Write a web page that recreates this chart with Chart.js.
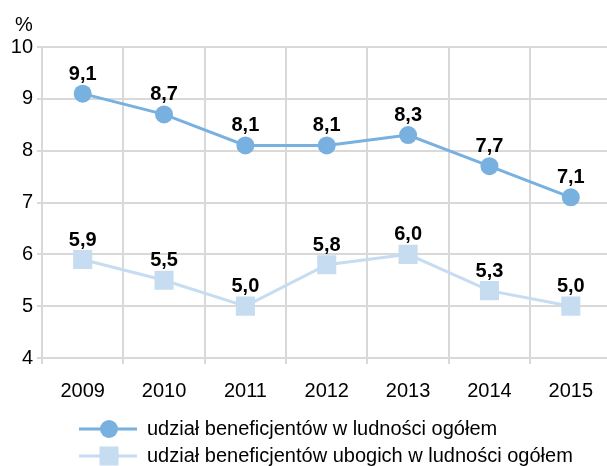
<!DOCTYPE html>
<html>
<head>
<meta charset="utf-8">
<script src="https://cdn.jsdelivr.net/npm/chart.js@4/dist/chart.umd.min.js"></script>
<style>
html, body { margin: 0; padding: 0; background: #fff; overflow: hidden; }
#wrap { position: relative; width: 625px; height: 466px; }
</style>
</head>
<body>
<div id="wrap"><canvas id="lineChart"></canvas></div>
<script>
var years = ['2009', '2010', '2011', '2012', '2013', '2014', '2015'];
var ogolem = [9.1, 8.7, 8.1, 8.1, 8.3, 7.7, 7.1];
var ubodzy = [5.9, 5.5, 5.0, 5.8, 6.0, 5.3, 5.0];
var yTicks = [4, 5, 6, 7, 8, 9, 10];
var seriesNames = ['udział beneficjentów w ludności ogółem', 'udział beneficjentów ubogich w ludności ogółem'];

var blue = '#78b0e0';
var lightBlue = '#c6dcf0';
var fontFam = '"Liberation Sans", Arial, sans-serif';

var extras = {
    id: 'extras',
    afterDatasetsDraw: function(chart) {
        var c = chart.ctx;
        c.save();
        // value labels
        c.font = 'bold 20px ' + fontFam;
        c.fillStyle = '#000';
        c.textAlign = 'center';
        c.textBaseline = 'alphabetic';
        chart.data.datasets.forEach(function(ds, i) {
            chart.getDatasetMeta(i).data.forEach(function(pt, j) {
                c.fillText(ds.data[j].toFixed(1).replace('.', ','), pt.x, pt.y - 14);
            });
        });
        // unit
        c.font = '20px ' + fontFam;
        c.textAlign = 'left';
        c.textBaseline = 'middle';
        c.fillText('%', 15, 25);
        // legend
        var rows = [429, 456];
        chart.data.datasets.forEach(function(ds, i) {
            var y = rows[i];
            c.strokeStyle = ds.borderColor;
            c.lineWidth = 3;
            c.beginPath();
            c.moveTo(79, y);
            c.lineTo(137, y);
            c.stroke();
            c.fillStyle = ds.backgroundColor;
            if (i === 0) {
                c.beginPath();
                c.arc(109, y, 9, 0, Math.PI * 2);
                c.fill();
            } else {
                c.fillRect(99.5, y - 9.5, 19, 19);
            }
            c.fillStyle = '#000';
            c.fillText(seriesNames[i], 147, y);
        });
        c.restore();
    }
};

new Chart(document.getElementById('lineChart'), {
    type: 'line',
    data: {
        labels: years,
        datasets: [{
            label: seriesNames[0],
            data: ogolem,
            borderColor: blue,
            backgroundColor: blue,
            borderWidth: 3,
            pointStyle: 'circle',
            pointRadius: 9,
            pointHoverRadius: 9,
            pointBorderWidth: 0,
            tension: 0
        }, {
            label: seriesNames[1],
            data: ubodzy,
            borderColor: lightBlue,
            backgroundColor: lightBlue,
            borderWidth: 3,
            pointStyle: 'rect',
            pointRadius: 13.5,
            pointHoverRadius: 13.5,
            pointBorderWidth: 0,
            tension: 0
        }]
    },
    options: {
        responsive: true,
        maintainAspectRatio: false,
        animation: false,
        events: [],
        layout: { padding: { top: 47, right: 0, left: 0, bottom: 0 } },
        plugins: {
            legend: { display: false },
            tooltip: { enabled: false }
        },
        scales: {
            x: {
                offset: true,
                grid: { offset: true, color: '#d9d9d9', lineWidth: 2, tickLength: 6, drawTicks: true },
                border: { color: '#d9d9d9', width: 2 },
                ticks: { color: '#000', font: { family: fontFam, size: 20 }, padding: 15, maxRotation: 0 },
                afterFit: function(s) { s.height = 108; }
            },
            y: {
                min: 4,
                max: 10,
                afterBuildTicks: function(s) { s.ticks = yTicks.map(function(v) { return { value: v }; }); },
                grid: { color: '#d9d9d9', lineWidth: 2, tickLength: 5 },
                border: { color: '#d9d9d9', width: 2 },
                ticks: { color: '#000', font: { family: fontFam, size: 20 }, padding: 4 },
                afterFit: function(s) { s.width = 42; }
            }
        }
    },
    plugins: [extras]
});
</script>
</body>
</html>
